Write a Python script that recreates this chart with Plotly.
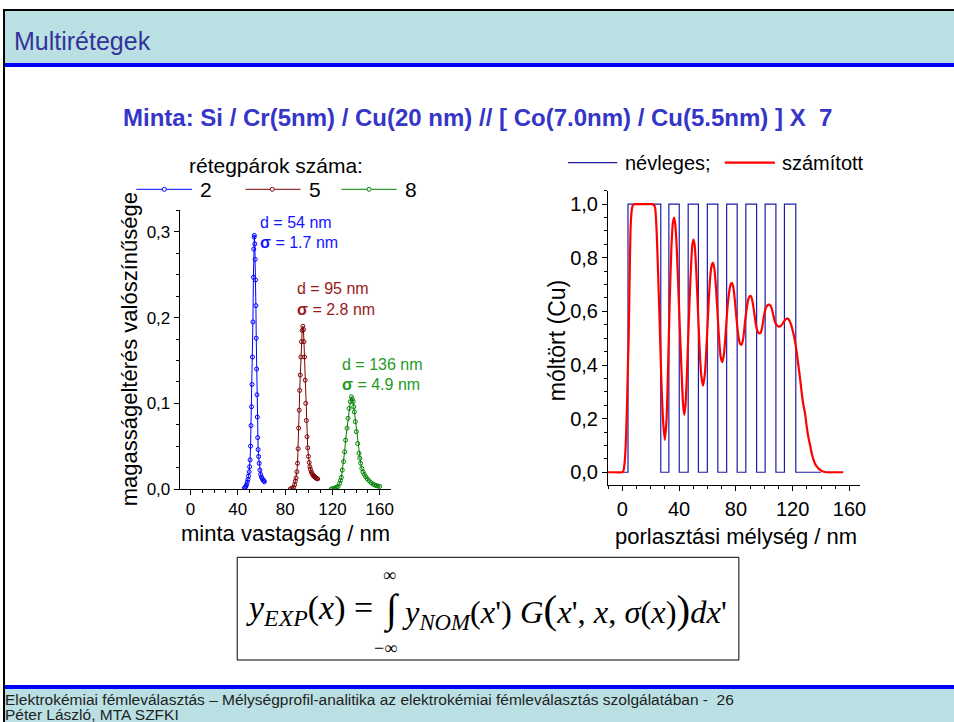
import plotly.graph_objects as go

# layout coordinates below are given on a 954 x 722 canvas
W, H = 954, 722
FIG_W, FIG_H = 962, 732
SANS = "Liberation Sans, Arial, sans-serif"
SERIF = "Liberation Serif, Times New Roman, serif"

# ---- left panel: height-deviation probability vs. sample thickness ----
thick_2 = [45.6, 46.2, 46.8, 47.4, 48.0, 48.6, 49.1, 49.6, 50.0, 50.4, 50.8, 51.2, 51.6,
           52.0, 52.4, 52.8, 53.2, 53.5, 53.8, 54.0, 54.4, 54.7, 55.0, 55.3, 55.6, 55.9,
           56.2, 56.5, 56.8, 57.2, 57.6, 58.1, 58.7, 59.3, 60.0, 60.7, 61.4, 62.0, 62.5]
prob_2 = [0.001, 0.002, 0.003, 0.005, 0.008, 0.011, 0.015, 0.020, 0.026, 0.034, 0.050, 0.074,
          0.096, 0.122, 0.154, 0.195, 0.247, 0.280, 0.294, 0.296, 0.286, 0.268, 0.244, 0.214,
          0.176, 0.140, 0.110, 0.084, 0.060, 0.046, 0.038, 0.030, 0.022, 0.017, 0.014, 0.012,
          0.0105, 0.0095, 0.0085]

thick_5 = [84.4, 85.8, 87.2, 88.0, 88.6, 89.2, 89.9, 90.5, 91.0, 91.4, 91.9, 92.3, 92.8,
           93.3, 93.8, 94.4, 95.0, 95.5, 95.9, 96.4, 96.9, 97.4, 97.9, 98.5, 99.1, 99.7,
           100.3, 100.9, 101.4, 102.1, 102.8, 103.5, 104.2, 104.8, 105.4, 106.1, 106.8, 107.5]
prob_5 = [0.000, 0.001, 0.002, 0.005, 0.009, 0.013, 0.020, 0.030, 0.047, 0.071, 0.092, 0.115,
          0.133, 0.154, 0.172, 0.185, 0.190, 0.186, 0.172, 0.154, 0.127, 0.100, 0.080, 0.061,
          0.048, 0.038, 0.031, 0.026, 0.023, 0.020, 0.018, 0.0163, 0.015, 0.0144, 0.0135,
          0.0128, 0.0122, 0.0118]

thick_8 = [119.0, 120.3, 121.8, 123.3, 124.7, 126.1, 126.8, 127.5, 128.3, 129.4, 130.3, 131.1,
           132.3, 133.1, 134.0, 135.1, 136.0, 136.8, 137.4, 138.0, 138.5, 139.3, 140.2, 141.3,
           142.4, 143.1, 143.8, 144.8, 145.8, 146.9, 148.0, 149.4, 150.9, 152.5, 154.3, 155.7,
           157.1, 158.5, 159.9]
prob_8 = [0.000, 0.0005, 0.001, 0.002, 0.003, 0.0066, 0.010, 0.0136, 0.022, 0.032, 0.0435,
          0.057, 0.071, 0.0825, 0.094, 0.102, 0.1077, 0.105, 0.102, 0.096, 0.090, 0.0786, 0.067,
          0.053, 0.0417, 0.036, 0.030, 0.024, 0.020, 0.017, 0.0144, 0.012, 0.0097, 0.0075,
          0.0058, 0.0047, 0.0039, 0.0034, 0.003]

pair_counts = ["2", "5", "8"]
peak_d = [54, 95, 136]
peak_sigma = [1.7, 2.8, 4.9]
series_colors = ["#0000ff", "#800000", "#008000"]
label_colors = ["#1414ff", "#9a1a1a", "#1f9a1f"]

# ---- right panel: Cu mole fraction vs. sputter depth ----
cu_start = [4.0, 32.8, 46.4, 59.9, 73.5, 87.0, 100.6, 114.2]
cu_end = [27.1, 40.1, 53.6, 67.3, 80.9, 94.6, 108.2, 122.2]
depth_nom_first, depth_nom_last = 0.0, 140.0

depth_calc = [-10, -5, 0, 0.5, 1.0, 1.6, 2.2, 2.8, 3.4, 4.0, 4.5, 5.2, 5.9, 6.7, 7.5, 9, 12, 15,
              18, 21, 22.8, 24.0, 25.2, 26.4, 27.5, 28.7, 29.9, 31.1, 32.2, 33.4, 34.6, 35.6,
              36.5, 37.4, 38.3, 39.3, 40.5, 41.7, 42.7, 43.6, 44.5, 45.4, 46.4, 47.6, 48.7, 49.4,
              50.1, 50.9, 51.9, 53.0, 54.3, 55.6, 56.9, 58.2, 59.5, 60.7, 61.8, 62.9, 63.8, 64.7,
              65.7, 66.9, 68.0, 69.3, 70.4, 71.6, 72.8, 74.0, 75.2, 76.3, 77.2, 78.2, 79.3, 80.5,
              81.7, 82.9, 84.0, 85.2, 86.4, 87.6, 88.7, 89.7, 90.6, 91.6, 92.8, 94.1, 95.3, 96.4,
              97.4, 98.5, 99.7, 100.9, 102.1, 103.2, 104.2, 105.3, 106.6, 108.0, 109.5, 111.1,
              112.4, 113.8, 115.2, 116.5, 117.8, 119.2, 120.4, 121.6, 122.8, 124.0, 125.2, 126.5,
              127.6, 128.7, 129.9, 131.1, 132.3, 133.4, 134.5, 135.7, 136.9, 138.1, 139.5, 141.0,
              142.8, 145, 150, 155.6]
frac_calc = [0, 0, 0, 0.002, 0.01, 0.034, 0.08, 0.158, 0.27, 0.407, 0.51, 0.74, 0.92, 0.98,
             0.997, 1.0, 1.0, 1.0, 1.0, 1.0, 0.993, 0.918, 0.744, 0.544, 0.345, 0.195, 0.121,
             0.19, 0.38, 0.64, 0.84, 0.93, 0.95, 0.92, 0.84, 0.71, 0.54, 0.38, 0.26, 0.214,
             0.25, 0.35, 0.50, 0.67, 0.80, 0.85, 0.868, 0.85, 0.77, 0.64, 0.48, 0.36, 0.323,
             0.37, 0.49, 0.62, 0.72, 0.77, 0.781, 0.765, 0.71, 0.61, 0.51, 0.43, 0.411, 0.44,
             0.52, 0.61, 0.67, 0.70, 0.706, 0.69, 0.64, 0.57, 0.51, 0.48, 0.476, 0.50, 0.56,
             0.61, 0.645, 0.656, 0.657, 0.64, 0.60, 0.55, 0.525, 0.518, 0.52, 0.54, 0.58, 0.61,
             0.622, 0.625, 0.623, 0.61, 0.58, 0.555, 0.545, 0.544, 0.55, 0.562, 0.571, 0.573,
             0.565, 0.545, 0.52, 0.49, 0.45, 0.40, 0.35, 0.29, 0.25, 0.22, 0.17, 0.13, 0.10,
             0.071, 0.05, 0.033, 0.022, 0.015, 0.008, 0.004, 0.001, 0, 0, 0]


def px(x):
    return x / W


def py(y):
    return 1 - y / H


# nominal square-wave profile built from the Cu layer boundaries
nom_x, nom_y = [depth_nom_first], [0]
for s, e in zip(cu_start, cu_end):
    nom_x += [s, s, e, e]
    nom_y += [0, 1, 1, 0]
nom_x.append(depth_nom_last)
nom_y.append(0)

fig = go.Figure()

for xs, ys, c in zip([thick_2, thick_5, thick_8], [prob_2, prob_5, prob_8], series_colors):
    fig.add_trace(go.Scatter(
        x=xs, y=ys, mode="lines+markers", xaxis="x", yaxis="y", showlegend=False,
        line=dict(color=c, width=1),
        marker=dict(symbol="circle-open", size=4, color=c, line=dict(width=1, color=c)),
    ))

fig.add_trace(go.Scatter(
    x=nom_x, y=nom_y, mode="lines", xaxis="x2", yaxis="y2", showlegend=False,
    line=dict(color="#1c1ca8", width=1.2),
))
fig.add_trace(go.Scatter(
    x=depth_calc, y=frac_calc, mode="lines", xaxis="x2", yaxis="y2", showlegend=False,
    line=dict(color="#ff0000", width=2.2, shape="spline", smoothing=0.6),
))

axis_common = dict(
    ticks="outside", ticklen=5, tickwidth=1, tickcolor="black",
    showline=True, linecolor="black", linewidth=1,
    showgrid=False, zeroline=False, tickmode="linear",
)

fig.update_layout(
    width=FIG_W, height=FIG_H, autosize=False,
    margin=dict(l=0, r=0, t=0, b=0),
    paper_bgcolor="white", plot_bgcolor="rgba(0,0,0,0)",
    separators=",.",
    xaxis=dict(domain=[px(179.3), px(390)], range=[-9.1, 169.3], anchor="y",
               tick0=0, dtick=40, ticklabelstandoff=0,
               minor=dict(dtick=10, ticklen=3, ticks="outside", tickcolor="black"),
               tickfont=dict(family=SANS, size=17, color="black"), **axis_common),
    yaxis=dict(domain=[py(489), py(210)], range=[0, 0.3256], anchor="x",
               tick0=0, dtick=0.1, tickformat=".1f",
               minor=dict(dtick=0.025, ticklen=3, ticks="outside", tickcolor="black"),
               tickfont=dict(family=SANS, size=17, color="black"), **axis_common),
    xaxis2=dict(domain=[px(606.7), px(858.3)], range=[-10.1, 167.5], anchor="y2",
                tick0=0, dtick=40, ticklabelstandoff=1,
                minor=dict(dtick=10, ticklen=3, ticks="outside", tickcolor="black"),
                tickfont=dict(family=SANS, size=20, color="black"), **axis_common),
    yaxis2=dict(domain=[py(485), py(190.7)], range=[-0.0475, 1.05], anchor="x2",
                tick0=0, dtick=0.2, tickformat=".1f",
                minor=dict(dtick=0.05, ticklen=3, ticks="outside", tickcolor="black"),
                tickfont=dict(family=SANS, size=20, color="black"), **axis_common),
)

shapes = []
# slide frame: header band, footer band, borders
shapes.append(dict(type="rect", xref="paper", yref="paper", x0=px(4), x1=1, y0=py(63), y1=py(10.5),
                   fillcolor="#bae0e4", line=dict(width=0), layer="below"))
shapes.append(dict(type="rect", xref="paper", yref="paper", x0=px(4), x1=1, y0=py(67), y1=py(63),
                   fillcolor="#0000ff", line=dict(width=0)))
shapes.append(dict(type="rect", xref="paper", yref="paper", x0=px(4), x1=1, y0=0, y1=py(689),
                   fillcolor="#bae0e4", line=dict(width=0), layer="below"))
shapes.append(dict(type="rect", xref="paper", yref="paper", x0=px(4), x1=1, y0=py(689), y1=py(685),
                   fillcolor="#0000ff", line=dict(width=0)))
shapes.append(dict(type="line", xref="paper", yref="paper", x0=px(3), x1=1, y0=py(10), y1=py(10),
                   line=dict(color="black", width=2)))
shapes.append(dict(type="line", xref="paper", yref="paper", x0=px(4), x1=px(4), y0=0, y1=py(10),
                   line=dict(color="black", width=2)))
# formula box
shapes.append(dict(type="rect", xref="paper", yref="paper", x0=px(236.7), x1=px(737.3),
                   y0=py(660), y1=py(557.3), line=dict(color="black", width=1)))

# left legend samples
legend_left = [(136, 191.7, 164), (245, 300, 271.7), (340.7, 396, 368.3)]
for (x0, x1, xm), c in zip(legend_left, series_colors):
    shapes.append(dict(type="line", xref="paper", yref="paper", x0=px(x0), x1=px(x1),
                       y0=py(189.3), y1=py(189.3), line=dict(color=c, width=1)))
    shapes.append(dict(type="circle", xref="paper", yref="paper", x0=px(xm - 2), x1=px(xm + 2),
                       y0=py(191.3), y1=py(187.3), line=dict(color=c, width=1), fillcolor="white"))
# right legend samples
shapes.append(dict(type="line", xref="paper", yref="paper", x0=px(566.7), x1=px(616),
                   y0=py(162.7), y1=py(162.7), line=dict(color="#1c1ca8", width=1.2)))
shapes.append(dict(type="line", xref="paper", yref="paper", x0=px(723.3), x1=px(773.3),
                   y0=py(162.7), y1=py(162.7), line=dict(color="#ff0000", width=2.2)))
fig.update_layout(shapes=shapes)

ann = []


def text(x, y, s, size, color="black", family=SANS, xanchor="center", yanchor="middle", angle=0):
    ann.append(dict(x=px(x), y=py(y), xref="paper", yref="paper", text=s, showarrow=False,
                    xanchor=xanchor, yanchor=yanchor, textangle=angle,
                    font=dict(family=family, size=size, color=color)))


text(12, 41, "Multirétegek", 25, color="#333399", xanchor="left")
text(476.5, 117, "<b>Minta: Si / Cr(5nm) / Cu(20 nm) // [ Co(7.0nm) / Cu(5.5nm) ] X  7</b>",
     24, color="#3535c8")

# left panel texts
text(275, 165, "rétegpárok száma:", 21)
for (x0, x1, xm), lbl in zip(legend_left, pair_counts):
    text(x1 + 6, 189.5, lbl, 21, xanchor="left")
text(130, 349, "magasságeltérés valószínűsége", 22, angle=-90)
text(284.7, 533, "minta vastagság / nm", 22)
ann_pos = [(257.3, 222.7, 242.7), (294, 288.3, 309.3), (339.3, 365, 384.3)]
for (x, yd, ys), d, sg, c in zip(ann_pos, peak_d, peak_sigma, label_colors):
    text(x, yd, f"d = {d} nm", 16, color=c, xanchor="left")
    text(x, ys, f"<b>σ</b> = {sg} nm", 16, color=c, xanchor="left")

# right panel texts
text(621.7, 162.7, "névleges;", 20, xanchor="left")
text(778.3, 162.7, "számított", 20, xanchor="left")
text(556, 341, "móltört (Cu)", 23, angle=-90)
text(734.5, 536, "porlasztási mélység / nm", 22)

# convolution formula
text(243, 610, "<i>y</i><sub><i>EXP</i></sub>(<i>x</i>) =", 34, family=SERIF, xanchor="left")
text(391, 609, "∫", 40, family=SERIF)
text(389, 575, "∞", 18, family=SERIF)
text(385, 648, "−∞", 18, family=SERIF)
text(399, 610,
     "<i>y</i><sub><i>NOM</i></sub>(<i>x</i>') <i>G</i><span style='font-size:41px'>(</span>"
     "<i>x</i>', <i>x</i>, <i>σ</i>(<i>x</i>)<span style='font-size:41px'>)</span><i>dx</i>'",
     32.5, family=SERIF, xanchor="left")

# footer
text(3, 699, "Elektrokémiai fémleválasztás – Mélységprofil-analitika az elektrokémiai "
     "fémleválasztás szolgálatában -  26", 15.5, color="#222222", xanchor="left")
text(3, 714, "Péter László, MTA SZFKI", 15.5, color="#222222", xanchor="left")

fig.update_layout(annotations=ann)
fig.write_html("out.html", config={"displayModeBar": False})
